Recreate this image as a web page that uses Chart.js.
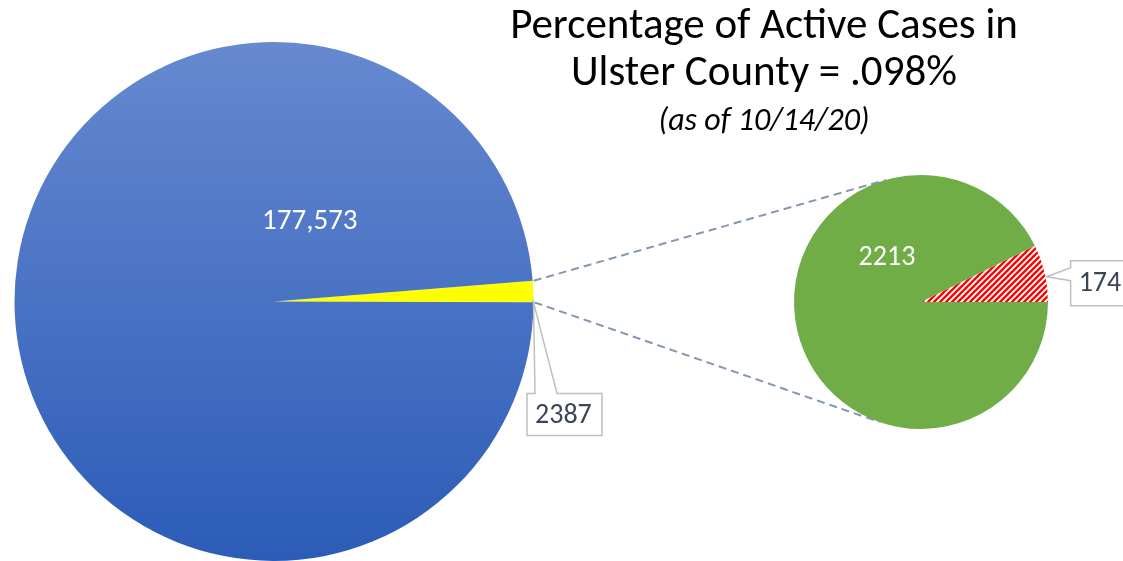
<!DOCTYPE html>
<html lang="en">
<head>
<meta charset="UTF-8">
<title>Percentage of Active Cases in Ulster County</title>
<script src="https://cdn.jsdelivr.net/npm/chart.js"></script>
<style>
  body { margin: 0; background: #fff; font-family: Carlito, Calibri, Lato, sans-serif; }
  .stage { position: relative; width: 1123px; height: 561px; overflow: hidden; }
  .stage canvas { position: absolute; left: 0; top: 0; }
  .title { position: absolute; left: 364px; width: 800px; text-align: center; color: #000; white-space: nowrap; }
  .t1 { top: 0px; font-size: 43px; line-height: 47px; }
  .t2 { top: 102px; font-size: 32px; font-style: italic; line-height: 36px; }
</style>
</head>
<body>
<div class="stage">
  <canvas id="popChart" width="1123" height="561"></canvas>
  <canvas id="caseChart" width="1123" height="561"></canvas>
  <div class="title t1">Percentage of Active Cases in<br>Ulster County = .098%</div>
  <div class="title t2">(as of 10/14/20)</div>
</div>
<script>
// county population split: total cases vs everyone else
const popLabels = ['Total cases', 'Rest of county'];
const popValues = [2387, 177573];
// breakdown of the cases slice
const caseLabels = ['Active', 'Recovered'];
const caseValues = [174, 2213];

const FONT = 'Carlito, Calibri, Lato, sans-serif';
const labelColor = '#3A4658';
const calloutBorder = '#BFBFBF';

function sum(arr) { return arr.reduce((a, b) => a + b, 0); }

function hatchPattern() {
  const c = document.createElement('canvas');
  c.width = c.height = 6;
  const g = c.getContext('2d');
  g.fillStyle = '#fff';
  g.fillRect(0, 0, 6, 6);
  g.strokeStyle = '#ff0000';
  g.lineWidth = 2.3;
  g.beginPath();
  g.moveTo(-1, 7); g.lineTo(7, -1);
  g.moveTo(-1, 1); g.lineTo(1, -1);
  g.moveTo(5, 7); g.lineTo(7, 5);
  g.stroke();
  return g.createPattern(c, 'repeat');
}

function arcProps(chart, i) {
  return chart.getDatasetMeta(0).data[i].getProps(['x', 'y', 'startAngle', 'endAngle', 'outerRadius'], true);
}

function drawCallout(ctx, text, box, tipBase, tip) {
  // box = {l, t, r, b}, tipBase = two points on the box edge, tip = where it points
  ctx.save();
  ctx.beginPath();
  if (tipBase.side === 'top') {
    ctx.moveTo(box.l, box.t);
    ctx.lineTo(tipBase.a, box.t);
    ctx.lineTo(tip.x, tip.y);
    ctx.lineTo(tipBase.b, box.t);
    ctx.lineTo(box.r, box.t);
    ctx.lineTo(box.r, box.b);
    ctx.lineTo(box.l, box.b);
  } else {
    ctx.moveTo(box.l, box.t);
    ctx.lineTo(box.r, box.t);
    ctx.lineTo(box.r, box.b);
    ctx.lineTo(box.l, box.b);
    ctx.lineTo(box.l, tipBase.b);
    ctx.lineTo(tip.x, tip.y);
    ctx.lineTo(box.l, tipBase.a);
  }
  ctx.closePath();
  ctx.fillStyle = '#fff';
  ctx.fill();
  ctx.strokeStyle = calloutBorder;
  ctx.lineWidth = 1.5;
  ctx.stroke();
  ctx.fillStyle = labelColor;
  ctx.font = '28px ' + FONT;
  ctx.textAlign = 'left';
  ctx.textBaseline = 'middle';
  ctx.fillText(text, box.l + 8, (box.t + box.b) / 2 + 1);
  ctx.restore();
}

const popLabelsPlugin = {
  id: 'popLabels',
  afterDraw(chart) {
    const ctx = chart.ctx;
    const big = arcProps(chart, 1);
    ctx.save();
    ctx.fillStyle = '#fff';
    ctx.font = '29px ' + FONT;
    ctx.textAlign = 'center';
    ctx.textBaseline = 'middle';
    ctx.fillText(popValues[1].toLocaleString('en-US'), big.x + big.outerRadius * 0.138, big.y - big.outerRadius * 0.308);
    ctx.restore();

    // callout for the cases slice, hanging below its lower edge
    const s = arcProps(chart, 0);
    const tip = { x: s.x + Math.cos(s.endAngle) * s.outerRadius, y: s.y + Math.sin(s.endAngle) * s.outerRadius };
    const box = { l: s.x + 253, t: s.y + 92, r: s.x + 328, b: s.y + 134 };
    drawCallout(ctx, String(popValues[0]), box, { side: 'top', a: box.l + 8, b: box.l + 30 }, tip);
  }
};

const caseLabelsPlugin = {
  id: 'caseLabels',
  afterDraw(chart) {
    const ctx = chart.ctx;
    const g = arcProps(chart, 1);
    ctx.save();
    ctx.fillStyle = '#fff';
    ctx.font = '28px ' + FONT;
    ctx.textAlign = 'center';
    ctx.textBaseline = 'middle';
    ctx.fillText(String(caseValues[1]), g.x - g.outerRadius * 0.268, g.y - g.outerRadius * 0.346);
    ctx.restore();

    const a = arcProps(chart, 0);
    const mid = (a.startAngle + a.endAngle) / 2;
    const tip = { x: a.x + Math.cos(mid) * (a.outerRadius + 2), y: a.y + Math.sin(mid) * (a.outerRadius + 2) + 4 };
    const box = { l: tip.x + 24, t: tip.y - 16, r: tip.x + 90, b: tip.y + 29 };
    drawCallout(ctx, String(caseValues[0]), box, { side: 'left', a: tip.y - 9, b: tip.y + 4 }, tip);

    // dashed connectors from the cases slice to the tangents of the second pie
    const p = arcProps(popChart, 0);
    const ends = [p.startAngle, p.endAngle];
    ctx.save();
    ctx.strokeStyle = '#8497B0';
    ctx.lineWidth = 2;
    ctx.setLineDash([8, 5]);
    ends.forEach((ang, k) => {
      const px = p.x + Math.cos(ang) * p.outerRadius + 1;
      const py = p.y + Math.sin(ang) * p.outerRadius;
      const dx = px - g.x, dy = py - g.y;
      const d = Math.hypot(dx, dy);
      const base = Math.atan2(dy, dx);
      const off = Math.acos(g.outerRadius / d);
      const t = k === 0 ? base + off : base - off;
      ctx.beginPath();
      ctx.moveTo(px, py);
      ctx.lineTo(g.x + Math.cos(t) * g.outerRadius, g.y + Math.sin(t) * g.outerRadius);
      ctx.stroke();
    });
    ctx.restore();
  }
};

const popShare = popValues[0] / sum(popValues) * 360;
const popChart = new Chart(document.getElementById('popChart'), {
  type: 'pie',
  data: {
    labels: popLabels,
    datasets: [{
      data: popValues,
      borderWidth: 0,
      backgroundColor: ctx => {
        if (ctx.dataIndex === 0) return '#FFFF00';
        const area = ctx.chart.chartArea;
        if (!area) return '#4472C4';
        const grad = ctx.chart.ctx.createLinearGradient(0, area.top, 0, area.bottom);
        grad.addColorStop(0, '#6689D0');
        grad.addColorStop(1, '#2C5CB7');
        return grad;
      }
    }]
  },
  options: {
    responsive: false,
    animation: false,
    rotation: 90 - 2.2 - popShare / 2,
    layout: { padding: { left: 14, top: 42, right: 589, bottom: 0 } },
    plugins: { legend: { display: false }, tooltip: { enabled: false } }
  },
  plugins: [popLabelsPlugin]
});

const caseShare = caseValues[0] / sum(caseValues) * 360;
const caseChart = new Chart(document.getElementById('caseChart'), {
  type: 'pie',
  data: {
    labels: caseLabels,
    datasets: [{
      data: caseValues,
      borderWidth: 0,
      backgroundColor: [hatchPattern(), '#70AD47']
    }]
  },
  options: {
    responsive: false,
    animation: false,
    rotation: 90 - caseShare,
    layout: { padding: { left: 794, top: 175, right: 75, bottom: 132 } },
    plugins: { legend: { display: false }, tooltip: { enabled: false } }
  },
  plugins: [caseLabelsPlugin]
});
</script>
</body>
</html>
